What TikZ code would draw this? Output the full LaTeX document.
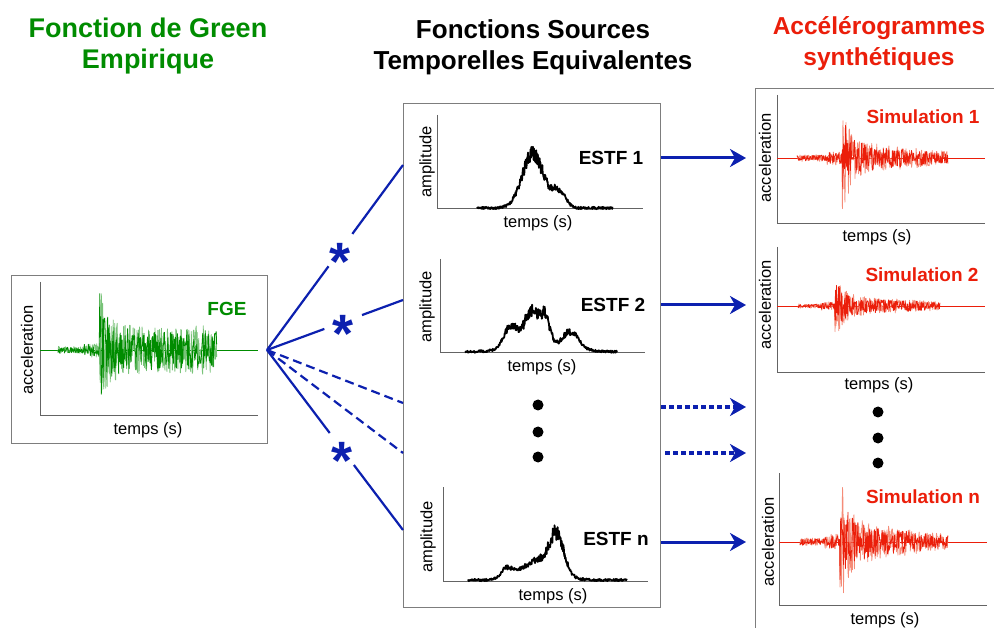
\documentclass[tikz,border=0pt]{standalone}
\usepackage{fontspec}
\setmainfont{Liberation Sans}
\usetikzlibrary{arrows.meta,positioning}
\definecolor{fgegreen}{RGB}{0,140,0}
\definecolor{fgelight}{RGB}{120,195,120}
\definecolor{simred}{RGB}{235,30,10}
\definecolor{simlight}{RGB}{245,140,120}
\definecolor{fanblue}{RGB}{12,32,175}
\definecolor{framegray}{RGB}{125,125,125}

\begin{document}
\begin{tikzpicture}[x=1pt, y=-1pt,
    frame/.style={draw=framegray, line width=0.9pt, inner sep=0pt, anchor=north west},
    axis/.style={draw=framegray!80!black, line width=0.9pt},
    axlabel/.style={font=\fontsize{16.5}{18}\selectfont, inner sep=0pt},
    tag/.style={font=\fontsize{19}{22}\selectfont\bfseries, inner sep=0pt},
    heading/.style={font=\fontsize{26}{31}\selectfont\bfseries, align=center, inner sep=0pt},
    fan/.style={fanblue, line width=2.2pt},
    fandash/.style={fan, dash pattern=on 9pt off 5pt},
    gap/.style={circle, fill=white, inner sep=0pt, minimum size=40pt, text=fanblue,
                font=\fontsize{54}{54}\selectfont\bfseries},
    flow/.style={fanblue, line width=3pt, -{Stealth[length=16pt, width=18pt, inset=5pt]}},
    flowdash/.style={flow, line width=3.5pt, dash pattern=on 5pt off 3pt},
    dot/.style={circle, fill=black, inner sep=0pt, minimum size=11pt},
    trace/.style={line width=0.8pt, line join=round},
    pulse/.style={black, line width=1.8pt, line join=round},
    declare function={
      bump(\xq,\mq,\wq)=exp(-((\xq-\mq)/\wq)^2);
      quake(\tq,\sq,\cq,\kq)=0.06+0.06*(\tq>\sq-0.1)+(\tq>\sq)*(\cq*(1-\kq*\tq)+0.75*exp(-(\tq-\sq)/0.05));
    }
]
\clip (0,0) rectangle (994,628);
\fill[white] (0,0) rectangle (994,628);
\pgfmathsetseed{4217}

\node[heading, text=fgegreen, font=\fontsize{27}{31}\selectfont\bfseries] (ttlfge) at (148,46) {Fonction de Green\\Empirique};
\node[heading] (ttlestf) at (533,47) {Fonctions Sources\\Temporelles Equivalentes};
\node[heading, text=simred, font=\fontsize{24.5}{31}\selectfont\bfseries] (ttlsim) at (879,44) {Accélérogrammes\\synthétiques};

% FGE
\node[frame, minimum width=256pt, minimum height=168pt] (fgebox) at (11,275) {};
\draw[axis] (40,282) -- (40,415) -- (258,415);
\draw[fgegreen, line width=0.6pt] (40,350) -- (258,350);
\draw[trace, fgelight] plot[samples=320, domain=0:1, variable=\x] ({58+159*\x}, {350+62*quake(\x,0.26,0.27,0)*rand});
\draw[trace, fgegreen] plot[samples=320, domain=0:1, variable=\x] ({58+159*\x}, {350+52*quake(\x,0.26,0.27,0)*rand});
\node[axlabel, rotate=90] (accfge) at (27,350) {acceleration};
\node[axlabel] (tfge) at (148,430) {temps (s)};
\node[tag, text=fgegreen] (fge) at (227,309) {FGE};

% ESTF
\node[frame, minimum width=257pt, minimum height=504pt] (estf) at (403,103) {};
\draw[axis] (437,115) -- (437,208) -- (643,208);
\draw[pulse] plot[samples=360, domain=0:1, variable=\x] ({477+136*\x}, {208-(54*bump(\x,0.41,0.11)+16*bump(\x,0.6,0.07))*(1+0.15*rand)-1.2*rand});
\node[axlabel, rotate=90] (amp1) at (427,162) {amplitude};
\node[tag] (lab1) at (611,158) {ESTF 1};
\node[axlabel] (t1) at (538,223) {temps (s)};

\draw[axis] (440,259) -- (440,352) -- (645,352);
\draw[pulse] plot[samples=360, domain=0:1, variable=\x] ({465+152*\x}, {352-(22*bump(\x,0.3,0.06)+34*bump(\x,0.44,0.07)+24*bump(\x,0.53,0.04)+16*bump(\x,0.7,0.07)+8*bump(\x,0.5,0.25))*(1+0.15*rand)-1.2*rand});
\node[axlabel, rotate=90] (amp2) at (427,307) {amplitude};
\node[tag] (lab2) at (613,305) {ESTF 2};
\node[axlabel] (t2) at (542,367) {temps (s)};

\node[dot] (e1) at (538,405) {};
\node[dot] (e2) at (538,432) {};
\node[dot] (e3) at (538,457) {};

\draw[axis] (443,487) -- (443,581) -- (648,581);
\draw[pulse] plot[samples=360, domain=0:1, variable=\x] ({468+159*\x}, {580-(10*bump(\x,0.245,0.05)+20*bump(\x,0.45,0.15)+36*bump(\x,0.56,0.06))*(1+0.15*rand)-1.2*rand});
\node[axlabel, rotate=90] (ampn) at (428,537) {amplitude};
\node[tag] (labn) at (616,539) {ESTF n};
\node[axlabel] (tn) at (553,596) {temps (s)};

% simulations
\node[frame, minimum width=260pt, minimum height=560pt] (sims) at (755,88) {};
\draw[axis] (777,95) -- (777,223) -- (985,223);
\draw[simred, line width=0.6pt] (777,158) -- (985,158);
\draw[trace, simlight] plot[samples=300, domain=0:1, variable=\x] ({797+151*\x}, {158+58*quake(\x,0.3,0.24,1)*rand});
\draw[trace, simred] plot[samples=300, domain=0:1, variable=\x] ({797+151*\x}, {158+48*quake(\x,0.3,0.24,1)*rand});
\node[axlabel, rotate=90] (accs1) at (765,158) {acceleration};
\node[tag, text=simred] (sim1) at (923,117) {Simulation 1};
\node[axlabel] (ts1) at (877,237) {temps (s)};

\draw[axis] (777,247) -- (777,372) -- (985,372);
\draw[simred, line width=0.6pt] (777,306) -- (985,306);
\draw[trace, simlight] plot[samples=300, domain=0:1, variable=\x] ({798+142*\x}, {306+36*quake(\x,0.26,0.24,1)*rand});
\draw[trace, simred] plot[samples=300, domain=0:1, variable=\x] ({798+142*\x}, {306+30*quake(\x,0.26,0.24,1)*rand});
\node[axlabel, rotate=90] (accs2) at (765,305) {acceleration};
\node[tag, text=simred] (sim2) at (922,275) {Simulation 2};
\node[axlabel] (ts2) at (879,385) {temps (s)};

\node[dot] (s1) at (878,412) {};
\node[dot] (s2) at (878,438) {};
\node[dot] (s3) at (878,463) {};

\draw[axis] (779,473) -- (779,605) -- (987,605);
\draw[simred, line width=0.6pt] (779,542) -- (987,542);
\draw[trace, simlight] plot[samples=300, domain=0:1, variable=\x] ({800+148*\x}, {542+66*quake(\x,0.27,0.3,1)*rand});
\draw[trace, simred] plot[samples=300, domain=0:1, variable=\x] ({800+148*\x}, {542+54*quake(\x,0.27,0.3,1)*rand});
\node[axlabel, rotate=90] (accsn) at (768,542) {acceleration};
\node[tag, text=simred] (simn) at (923,497) {Simulation n};
\node[axlabel] (tsn) at (885,620) {temps (s)};

% convolution fan
\coordinate (fgeout) at (267,350);
\coordinate (in1) at (403,165);
\coordinate (in2) at (403,300);
\coordinate (in3) at (403,403);
\coordinate (in4) at (403,453);
\coordinate (inn) at (403,530);
\draw[fan] (fgeout) -- node[gap, pos=0.54] (st1) {\smash{\raisebox{-0.56em}{*}}} (in1);
\draw[fan] (fgeout) -- node[gap, pos=0.56] (st2) {\smash{\raisebox{-0.56em}{*}}} (in2);
\draw[fandash] (fgeout) -- (in3);
\draw[fandash] (fgeout) -- (in4);
\draw[fan] (fgeout) -- node[gap, pos=0.55] (stn) {\smash{\raisebox{-0.56em}{*}}} (inn);

% outputs
\coordinate (out1) at (661,158);
\coordinate (out2) at (661,305);
\coordinate (out3) at (661,407);
\coordinate (out4) at (665,453);
\coordinate (outn) at (661,542);
\coordinate (sin1) at (746,158);
\coordinate (sin2) at (746,305);
\coordinate (sin3) at (746,407);
\coordinate (sin4) at (746,453);
\coordinate (sinn) at (746,542);
\draw[flow] (out1) -- (sin1);
\draw[flow] (out2) -- (sin2);
\draw[flowdash] (out3) -- (sin3);
\draw[flowdash] (out4) -- (sin4);
\draw[flow] (outn) -- (sinn);
\end{tikzpicture}
\end{document}
